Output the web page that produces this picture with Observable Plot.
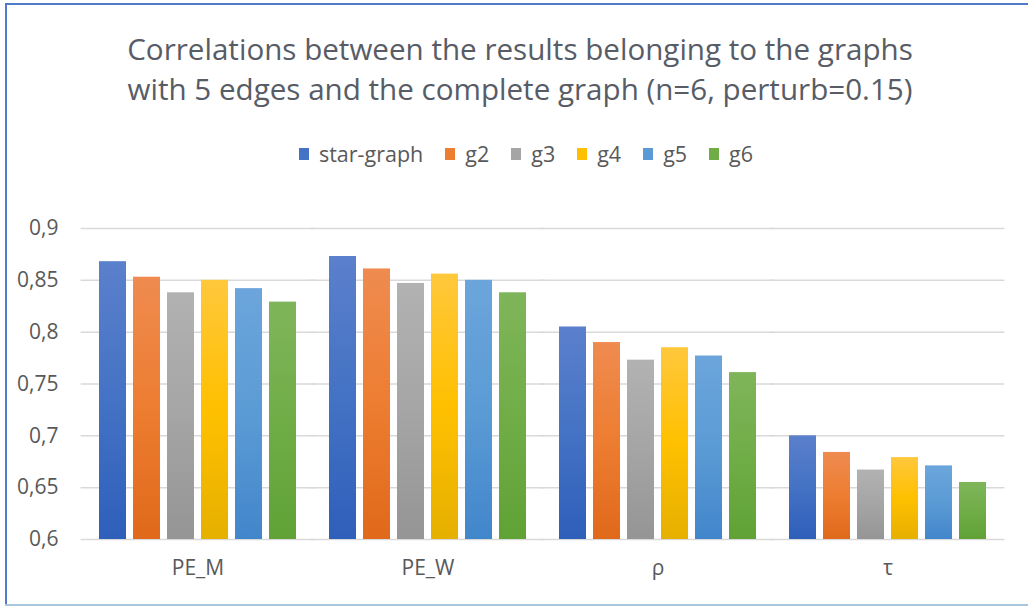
<!DOCTYPE html>
<html>
<head>
<meta charset="utf-8">
<script src="https://cdn.jsdelivr.net/npm/d3@7"></script>
<script src="https://cdn.jsdelivr.net/npm/@observablehq/plot@0.6"></script>
<style>
  html, body { margin: 0; padding: 0; background: #fff; }
  #frame { position: relative; width: 1028px; height: 608px; background: #fff; overflow: hidden; font-family: "Open Sans", Lato, sans-serif; color: #595959; }
  .bl { position: absolute; left: 5px; top: 3px; width: 2px; height: 603px; background: #4f7bc8; }
  .bt { position: absolute; left: 5px; top: 3px; width: 1023px; height: 2px; background: #4f7bc8; }
  .bb { position: absolute; left: 5px; top: 604px; width: 1023px; height: 2px; background: #a9c6da; }
  #title { position: absolute; top: 29px; left: 6px; width: 1028px; text-align: center; font-size: 29.6px; line-height: 40px; color: #575c66; }
  #legend { position: absolute; top: 140px; left: 12px; width: 1028px; display: flex; justify-content: center; font-size: 21.5px; line-height: 27px; }
  #legend .item { display: flex; align-items: center; margin: 0 11px; }
  #legend .sw { width: 10px; height: 12px; margin-right: 10px; }
  #chart { position: absolute; top: 200px; left: 0; }
</style>
</head>
<body>
<div id="frame">
  <div class="bl"></div><div class="bt"></div><div class="bb"></div>
  <div id="title">Correlations between the results belonging to the graphs<br>with 5 edges and the complete graph (n=6, perturb=0.15)</div>
  <div id="legend"></div>
  <div id="chart"></div>
</div>
<script>
const categories = ["PE_M", "PE_W", "ρ", "τ"];
const series = ["star-graph", "g2", "g3", "g4", "g5", "g6"];
const starGraph = [0.868, 0.873, 0.805, 0.700];
const g2 = [0.853, 0.861, 0.790, 0.684];
const g3 = [0.838, 0.847, 0.773, 0.667];
const g4 = [0.850, 0.856, 0.785, 0.679];
const g5 = [0.842, 0.850, 0.777, 0.671];
const g6 = [0.829, 0.838, 0.761, 0.655];
const yTicks = [0.6, 0.65, 0.7, 0.75, 0.8, 0.85, 0.9];

const baseColors = ["#4472c4", "#ed7d31", "#a5a5a5", "#ffc000", "#5b9bd5", "#70ad47"];
const topColors = ["#5b80cc", "#ef8b50", "#b2b2b2", "#ffc83c", "#6ba5db", "#7fb55a"];
const bottomColors = ["#2e5fba", "#e0691b", "#959595", "#e6b000", "#4286cb", "#60a236"];

const seriesValues = [starGraph, g2, g3, g4, g5, g6];
const data = [];
categories.forEach((c, ci) => {
  series.forEach((s, si) => {
    data.push({category: c, series: s, value: seriesValues[si][ci]});
  });
});

// legend
const legend = document.getElementById("legend");
series.forEach((s, i) => {
  const item = document.createElement("div");
  item.className = "item";
  const sw = document.createElement("span");
  sw.className = "sw";
  sw.style.background = baseColors[i];
  const t = document.createElement("span");
  t.textContent = s;
  item.appendChild(sw); item.appendChild(t);
  legend.appendChild(item);
});

const W = 1028, ML = 80, MR = 22;
const fxPadInner = 0.124, fxPadOuter = 0.069;
const fxStep = (W - ML - MR) / (categories.length - fxPadInner + 2 * fxPadOuter);
const gridExt = -(Math.max(fxStep * fxPadInner / 2, fxStep * fxPadOuter) + 0.5);

const chart = Plot.plot({
  width: W,
  height: 400,
  marginLeft: ML,
  marginRight: MR,
  marginTop: 28,
  marginBottom: 61,
  style: {fontFamily: "'Open Sans', Lato, sans-serif", fontSize: "21px", color: "#595959", background: "transparent", overflow: "visible"},
  fx: {domain: categories, paddingInner: fxPadInner, paddingOuter: fxPadOuter, label: null, tickSize: 0, tickPadding: 21, axis: "bottom"},
  x: {domain: series, paddingInner: 0.2, paddingOuter: 0, axis: null},
  y: {domain: [0.6, 0.9], ticks: yTicks, tickSize: 0, tickPadding: 39, label: null,
      tickFormat: d => String(d).replace(".", ",")},
  color: {domain: series, range: series.map((s, i) => `url(#grad${i})`)},
  marks: [
    Plot.ruleY(yTicks, {stroke: "#d9d9d9", strokeWidth: 1.5, strokeOpacity: 1, insetLeft: gridExt, insetRight: gridExt}),
    Plot.barY(data, {fx: "category", x: "series", y1: 0.6, y2: "value", fill: "series"})
  ]
});

const svg = chart.tagName.toLowerCase() === "svg" ? chart : chart.querySelector("svg");
const ns = "http://www.w3.org/2000/svg";
const defs = document.createElementNS(ns, "defs");
series.forEach((s, i) => {
  const g = document.createElementNS(ns, "linearGradient");
  g.setAttribute("id", `grad${i}`);
  g.setAttribute("x1", "0"); g.setAttribute("y1", "0");
  g.setAttribute("x2", "0"); g.setAttribute("y2", "1");
  [[0, topColors[i]], [0.5, baseColors[i]], [1, bottomColors[i]]].forEach(([o, c]) => {
    const st = document.createElementNS(ns, "stop");
    st.setAttribute("offset", o);
    st.setAttribute("stop-color", c);
    g.appendChild(st);
  });
  defs.appendChild(g);
});
svg.insertBefore(defs, svg.firstChild);
document.getElementById("chart").appendChild(chart);
</script>
</body>
</html>
